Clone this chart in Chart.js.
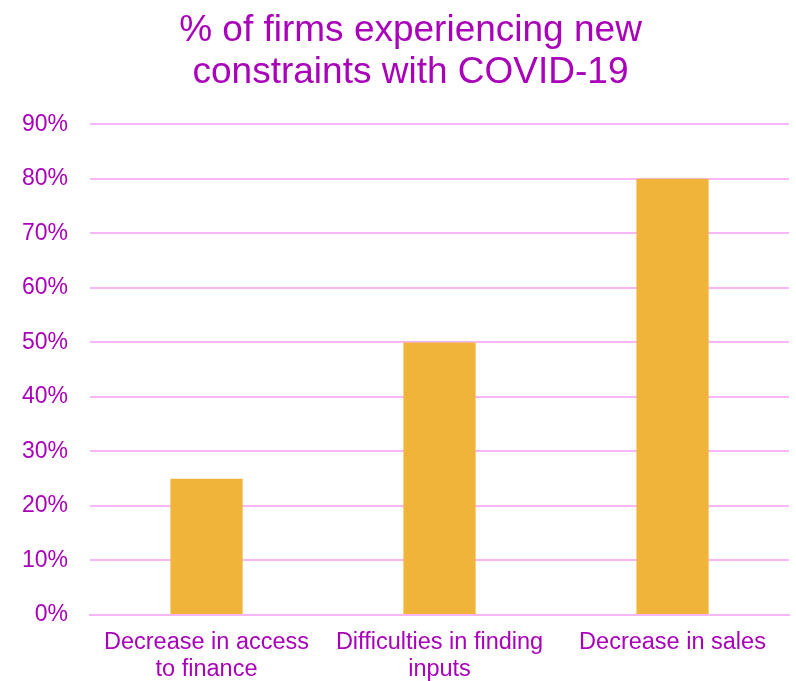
<!DOCTYPE html>
<html>
<head>
<meta charset="utf-8">
<script src="https://cdn.jsdelivr.net/npm/chart.js@4/dist/chart.umd.min.js"></script>
<style>
  html, body { margin: 0; padding: 0; background: #fff; }
  #wrap { width: 796px; height: 681px; }
</style>
</head>
<body>
<div id="wrap"><canvas id="chart" width="796" height="681"></canvas></div>
<script>
const categories = [
  ['Decrease in access', 'to finance'],
  ['Difficulties in finding', 'inputs'],
  'Decrease in sales',
];
const shares = [0.25, 0.50, 0.80];
const yMax = 0.9;
const yStep = 0.1;

const PURPLE = '#A900B9';
const GRID = '#F7B6F7';
const BAR = '#F0B43A';
const FONT = '"Liberation Sans", Arial, sans-serif';

// nudge the title block a bit right of the canvas centre
const titleShift = {
  id: 'titleShift',
  afterLayout(chart) {
    const t = chart.titleBlock;
    if (t) { t.left += 16; t.right += 16; }
  },
};

const ctx = document.getElementById('chart');
new Chart(ctx, {
  type: 'bar',
  plugins: [titleShift],
  data: {
    labels: categories,
    datasets: [{
      data: shares,
      backgroundColor: BAR,
      borderWidth: 0,
      barPercentage: 0.31,
      categoryPercentage: 1,
    }],
  },
  options: {
    responsive: false,
    animation: false,
    layout: { padding: { left: 0, right: 7, top: 0, bottom: -16 } },
    scales: {
      x: {
        grid: { display: false, drawTicks: false },
        border: { color: GRID, width: 2 },
        ticks: {
          color: PURPLE,
          font: { family: FONT, size: 23.5, lineHeight: 1.15 },
          padding: 14,
          maxRotation: 0,
          autoSkip: false,
        },
      },
      y: {
        min: 0,
        max: yMax,
        grid: { color: GRID, lineWidth: 2, drawTicks: false },
        border: { display: false },
        ticks: {
          stepSize: yStep,
          color: PURPLE,
          font: { family: FONT, size: 23 },
          padding: 22,
          callback: v => Math.round(v * 100) + '%',
        },
      },
    },
    plugins: {
      legend: { display: false },
      tooltip: { enabled: false },
      title: {
        display: true,
        text: ['% of firms experiencing new', 'constraints with COVID-19'],
        color: PURPLE,
        font: { family: FONT, size: 37, weight: 'normal', lineHeight: 1.14 },
        padding: { top: 10, bottom: 30 },
      },
    },
  },
});
</script>
</body>
</html>
